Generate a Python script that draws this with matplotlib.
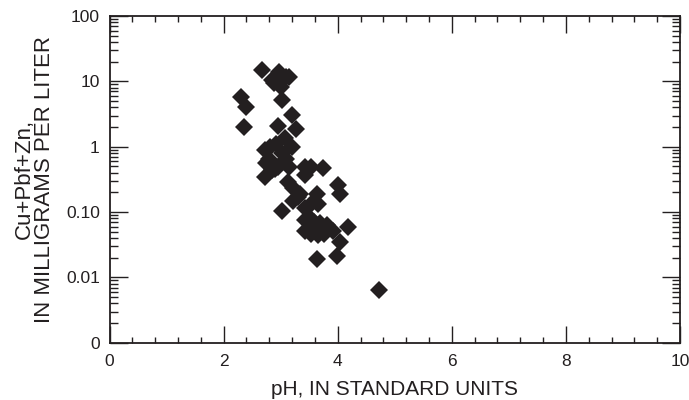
import numpy as np
import matplotlib
matplotlib.use("Agg")
import matplotlib.pyplot as plt
from matplotlib.ticker import FixedLocator, LogLocator, MultipleLocator, NullFormatter

plt.rcParams['font.family'] = ['Liberation Sans', 'DejaVu Sans']

# pH and dissolved Cu+Pb+Zn (mg/L) for each sample
ph = [2.68, 2.30, 2.40, 2.35, 2.97, 2.84, 3.10, 3.01, 2.88, 3.15,
      3.03, 3.19, 3.27, 2.96, 2.72, 2.82, 2.92, 3.07, 3.19, 3.03,
      2.75, 2.72, 2.84, 2.96, 3.15, 3.42, 3.53, 3.74, 3.42, 3.12,
      3.22, 3.34, 3.22, 3.63, 4.00, 4.04, 3.03, 3.42, 3.53, 3.65,
      3.42, 3.50, 3.59, 3.69, 3.81, 3.92, 4.18, 3.42, 3.53, 3.65,
      3.76, 4.04, 3.99, 3.63, 4.72, 3.57, 3.30, 3.10, 2.80, 2.90]
metals = [14.9, 5.8, 4.0, 2.0, 14.0, 10.5, 11.5, 8.3, 9.4, 11.5,
          5.2, 3.05, 1.9, 2.1, 0.89, 1.0, 1.1, 1.35, 1.0, 0.79,
          0.56, 0.35, 0.44, 0.49, 0.49, 0.49, 0.49, 0.47, 0.37, 0.29,
          0.23, 0.19, 0.15, 0.19, 0.26, 0.19, 0.105, 0.114, 0.135, 0.135,
          0.076, 0.085, 0.071, 0.067, 0.063, 0.052, 0.060, 0.052, 0.047, 0.045,
          0.047, 0.035, 0.021, 0.019, 0.0065, 0.060, 0.17, 0.65, 0.65, 0.45]

y_ticks = [0.001, 0.01, 0.1, 1, 10, 100]
y_tick_labels = ['0', '0.01', '0.10', '1', '10', '100']
x_ticks = [0, 2, 4, 6, 8, 10]

ink = '#231f20'

fig = plt.figure(figsize=(6.89, 4.0), dpi=100)
ax = fig.add_axes([0.159, 0.143, 0.828, 0.817])

ax.plot(ph, metals, linestyle='none', marker='D', markersize=9.5,
        color=ink, markeredgewidth=0)

ax.set_yscale('log')
ax.set_xlim(0, 10)
ax.set_ylim(0.001, 100)

ax.xaxis.set_major_locator(FixedLocator(x_ticks))
ax.xaxis.set_minor_locator(MultipleLocator(0.4))
ax.set_xticklabels([str(v) for v in x_ticks])

ax.yaxis.set_major_locator(FixedLocator(y_ticks))
ax.yaxis.set_minor_locator(LogLocator(base=10, subs=np.arange(2, 10)))
ax.yaxis.set_minor_formatter(NullFormatter())
ax.set_yticklabels(y_tick_labels)

ax.tick_params(which='both', direction='in', top=True, right=True,
               color=ink, width=1.0, labelcolor=ink, labelsize=12.5)
ax.tick_params(axis='x', which='major', length=12, pad=8)
ax.tick_params(axis='x', which='minor', length=4.5)
ax.tick_params(axis='y', which='major', length=13, pad=7)
ax.tick_params(axis='y', which='minor', length=6)

for spine in ax.spines.values():
    spine.set_color(ink)
    spine.set_linewidth(1.3)

ax.set_xlabel('pH, IN STANDARD UNITS', fontsize=15, color=ink, labelpad=8)
ax.set_ylabel('Cu+Pbf+Zn,\nIN MILLIGRAMS PER LITER', fontsize=16,
              color=ink, labelpad=8, linespacing=0.95)

fig.savefig('out.png', dpi=100)
